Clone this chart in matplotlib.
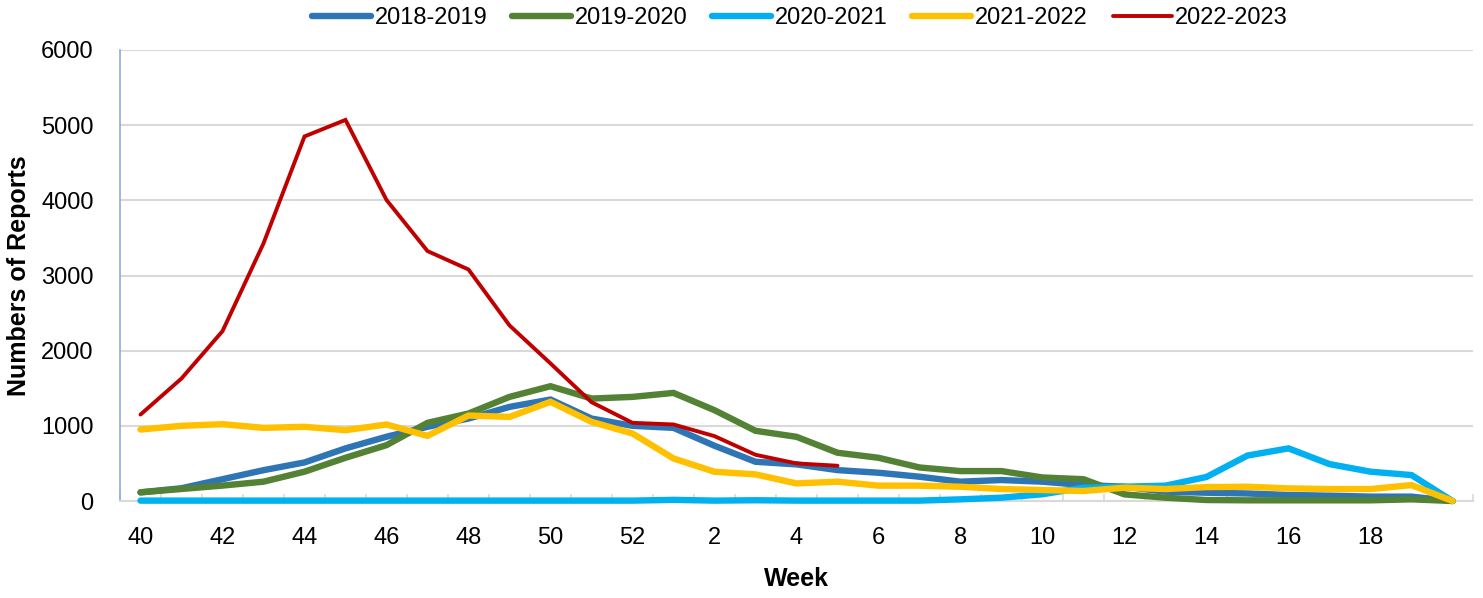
import matplotlib
matplotlib.use("Agg")
import matplotlib.pyplot as plt
from matplotlib.ticker import FixedLocator, MultipleLocator

weeks = [str(w) for w in list(range(40, 53)) + list(range(1, 21))]

s2018_2019 = [115, 170, 290, 410, 513, 700, 855, 987, 1097, 1252, 1350, 1097, 1000, 973, 735,
              522, 487, 411, 376, 323, 257, 279, 257, 212, 190, 124, 110, 100, 80, 71, 58, 58, 0]
s2019_2020 = [115, 160, 205, 257, 390, 575, 743, 1040, 1164, 1385, 1527, 1363, 1385, 1438, 1208,
              934, 854, 642, 575, 446, 398, 398, 313, 290, 88, 44, 13, 9, 9, 9, 9, 22, 0]
s2020_2021 = [5, 5, 5, 5, 5, 5, 5, 5, 5, 5, 5, 5, 5, 15, 5,
              10, 5, 5, 5, 5, 22, 44, 90, 177, 190, 204, 320, 605, 700, 491, 390, 345, 0]
s2021_2022 = [951, 1000, 1022, 973, 987, 942, 1018, 867, 1137, 1119, 1319, 1053, 898, 566, 389,
              354, 234, 257, 204, 204, 190, 159, 146, 133, 177, 159, 185, 190, 168, 159, 159, 212, 0]
s2022_2023 = [1150, 1630, 2260, 3427, 4850, 5070, 4005, 3325, 3080, 2336, 1830, 1315, 1040, 1018, 863,
              615, 500, 469]

series = [
    ("2018-2019", s2018_2019, "#2E75B6", 4.6),
    ("2019-2020", s2019_2020, "#548235", 4.6),
    ("2020-2021", s2020_2021, "#00B0F0", 4.6),
    ("2021-2022", s2021_2022, "#FFC000", 4.6),
    ("2022-2023", s2022_2023, "#C00000", 2.8),
]

plt.rcParams['font.family'] = ['Liberation Sans', 'DejaVu Sans']

fig = plt.figure(figsize=(14.83, 5.98), dpi=100)
ax = fig.add_axes([120/1483, 1-501/598, (1473-120)/1483, (501-50)/598])

for name, vals, col, lw in series:
    ax.plot(range(len(vals)), vals, color=col, lw=lw, label=name, clip_on=False, zorder=3,
            solid_capstyle='round', solid_joinstyle='miter')

ax.set_xlim(-0.5, len(weeks) - 0.5)
ax.set_ylim(0, 6000)
ax.yaxis.set_major_locator(MultipleLocator(1000))
ax.grid(axis='y', color='#D9D9D9', lw=1.5)
ax.set_axisbelow(True)

ax.set_xticks(range(0, 31, 2))
ax.set_xticklabels([weeks[i] for i in range(0, 31, 2)])
ax.xaxis.set_minor_locator(FixedLocator([i + 0.5 for i in range(-1, len(weeks))]))
ax.tick_params(axis='x', which='major', length=0, pad=19, labelsize=17)
ax.tick_params(axis='x', which='minor', direction='in', length=5, color='#D9D9D9', width=1.2)
ax.tick_params(axis='y', length=0, pad=19, labelsize=17)

for sp in ['top', 'right']:
    ax.spines[sp].set_visible(False)
ax.spines['left'].set_color('#8FAADC')
ax.spines['left'].set_linewidth(1.2)
ax.spines['bottom'].set_color('#D9D9D9')
ax.spines['bottom'].set_linewidth(1.5)
ax.spines['bottom'].set_zorder(2.5)

ax.set_ylabel("Numbers of Reports", fontsize=18, fontweight='bold', labelpad=7)
ax.set_xlabel("Week", fontsize=18, fontweight='bold', labelpad=13)

fig.legend(loc='center', bbox_to_anchor=(800/1483, 1-18/598), ncol=5, frameon=False,
           fontsize=17, handlelength=2.5, columnspacing=1.05, handletextpad=0.15)

fig.savefig("out.png", dpi=100)
